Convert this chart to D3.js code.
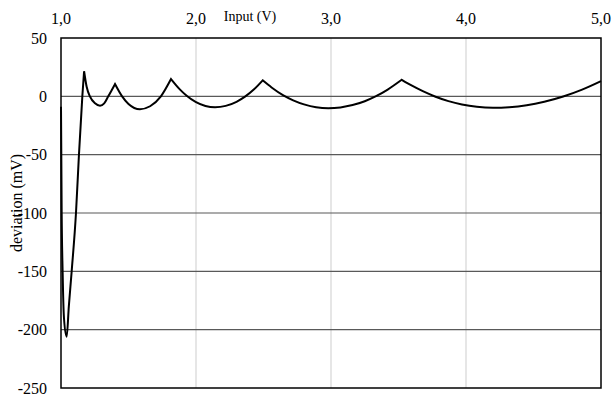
<!DOCTYPE html>
<html>
<head>
<meta charset="utf-8">
<script src="https://cdn.jsdelivr.net/npm/d3@7"></script>
<style>
  body { margin: 0; background: #fff; }
  svg text { font-family: "Liberation Serif", "Times New Roman", serif; fill: #000; }
</style>
</head>
<body>
<svg id="chart" width="612" height="396"></svg>
<script>
// data
var inputV = [1.000, 1.005, 1.012, 1.022, 1.042, 1.058, 1.079, 1.111, 1.133, 1.158, 1.171,
  1.190, 1.215, 1.252, 1.289, 1.320, 1.350, 1.400,
  1.450, 1.500, 1.585, 1.660, 1.740, 1.815,
  1.880, 1.931, 2.000, 2.070, 2.141, 2.220, 2.300, 2.363, 2.430, 2.494,
  2.560, 2.647, 2.720, 2.800, 2.890, 2.980, 3.070, 3.160, 3.250, 3.330, 3.420, 3.524,
  3.600, 3.680, 3.770, 3.870, 3.970, 4.080, 4.200, 4.320, 4.450, 4.580, 4.720, 4.860, 5.000];
var deviation = [-9, -100, -150, -190, -206, -180, -150, -100, -50, 0, 21.5,
  8.2, -0.3, -6, -8, -6, 0, 10.5,
  0.4, -6.5, -11, -8.5, 0, 14.8,
  6, 0.5, -5, -8.3, -9.4, -8.2, -4.7, -0.3, 6, 13.7,
  7.6, 0.8, -3.4, -6.9, -9.4, -10.2, -9.5, -7.5, -4.2, -0.1, 5.8, 14.2,
  9.1, 4.4, -0.1, -4.1, -7, -9, -9.8, -9.3, -7.6, -4.6, -0.1, 5.8, 13.1];
var xTicks = [1, 2, 3, 4, 5];
var yTicks = [50, 0, -50, -100, -150, -200, -250];

var svg = d3.select("#chart");
var pLeft = 61, pRight = 601, pTop = 38, pBottom = 388;

var x = d3.scaleLinear().domain([1, 5]).range([pLeft, pRight]);
var y = d3.scaleLinear().domain([-250, 50]).range([pBottom, pTop]);
var fmt = function (v) { return d3.format(".1f")(v).replace(".", ","); };

// vertical grid (light)
svg.selectAll(".vgrid").data(xTicks.slice(1, -1)).enter().append("line")
  .attr("x1", function (d) { return x(d); }).attr("x2", function (d) { return x(d); })
  .attr("y1", pTop).attr("y2", pBottom)
  .attr("stroke", "#d9d9d9").attr("stroke-width", 1.3);

// horizontal grid (dark)
svg.selectAll(".hgrid").data(yTicks.slice(1, -1)).enter().append("line")
  .attr("x1", pLeft).attr("x2", pRight)
  .attr("y1", function (d) { return y(d); }).attr("y2", function (d) { return y(d); })
  .attr("stroke", "#595959").attr("stroke-width", 1.2);

// frame
svg.append("rect").attr("x", pLeft).attr("y", pTop)
  .attr("width", pRight - pLeft).attr("height", pBottom - pTop)
  .attr("fill", "none").attr("stroke", "#000").attr("stroke-width", 1.5);

// x labels at top
svg.selectAll(".xlab").data(xTicks).enter().append("text")
  .attr("x", function (d) { return x(d); }).attr("y", 24)
  .attr("text-anchor", "middle").attr("font-size", 16)
  .text(fmt);
svg.append("text").attr("x", 250).attr("y", 21)
  .attr("text-anchor", "middle").attr("font-size", 14)
  .text("Input (V)");

// y labels
svg.selectAll(".ylab").data(yTicks).enter().append("text")
  .attr("x", 47).attr("y", function (d) { return y(d); })
  .attr("dy", "0.35em").attr("text-anchor", "end").attr("font-size", 16)
  .text(function (d) { return d; });
svg.append("text")
  .attr("transform", "translate(16.5,203) rotate(-90)")
  .attr("dy", "0.35em").attr("text-anchor", "middle").attr("font-size", 16)
  .text("deviation (mV)");

// curve: smooth arcs between the cusps (local maxima)
var pts = inputV.map(function (v, i) { return [v, deviation[i]]; });
var segs = [], cur = [pts[0]];
for (var i = 1; i < pts.length; i++) {
  cur.push(pts[i]);
  if (i < pts.length - 1 && pts[i][1] > pts[i - 1][1] && pts[i][1] > pts[i + 1][1]) {
    segs.push(cur);
    cur = [pts[i]];
  }
}
segs.push(cur);
var line = d3.line()
  .x(function (d) { return x(d[0]); })
  .y(function (d) { return y(d[1]); })
  .curve(d3.curveMonotoneX);
var path = segs.map(function (s, k) {
  var d = line(s);
  return k ? d.replace(/^M/, "L") : d;
}).join("");
svg.append("path").attr("d", path)
  .attr("fill", "none").attr("stroke", "#000").attr("stroke-width", 2)
  .attr("stroke-linejoin", "miter");
</script>
</body>
</html>
